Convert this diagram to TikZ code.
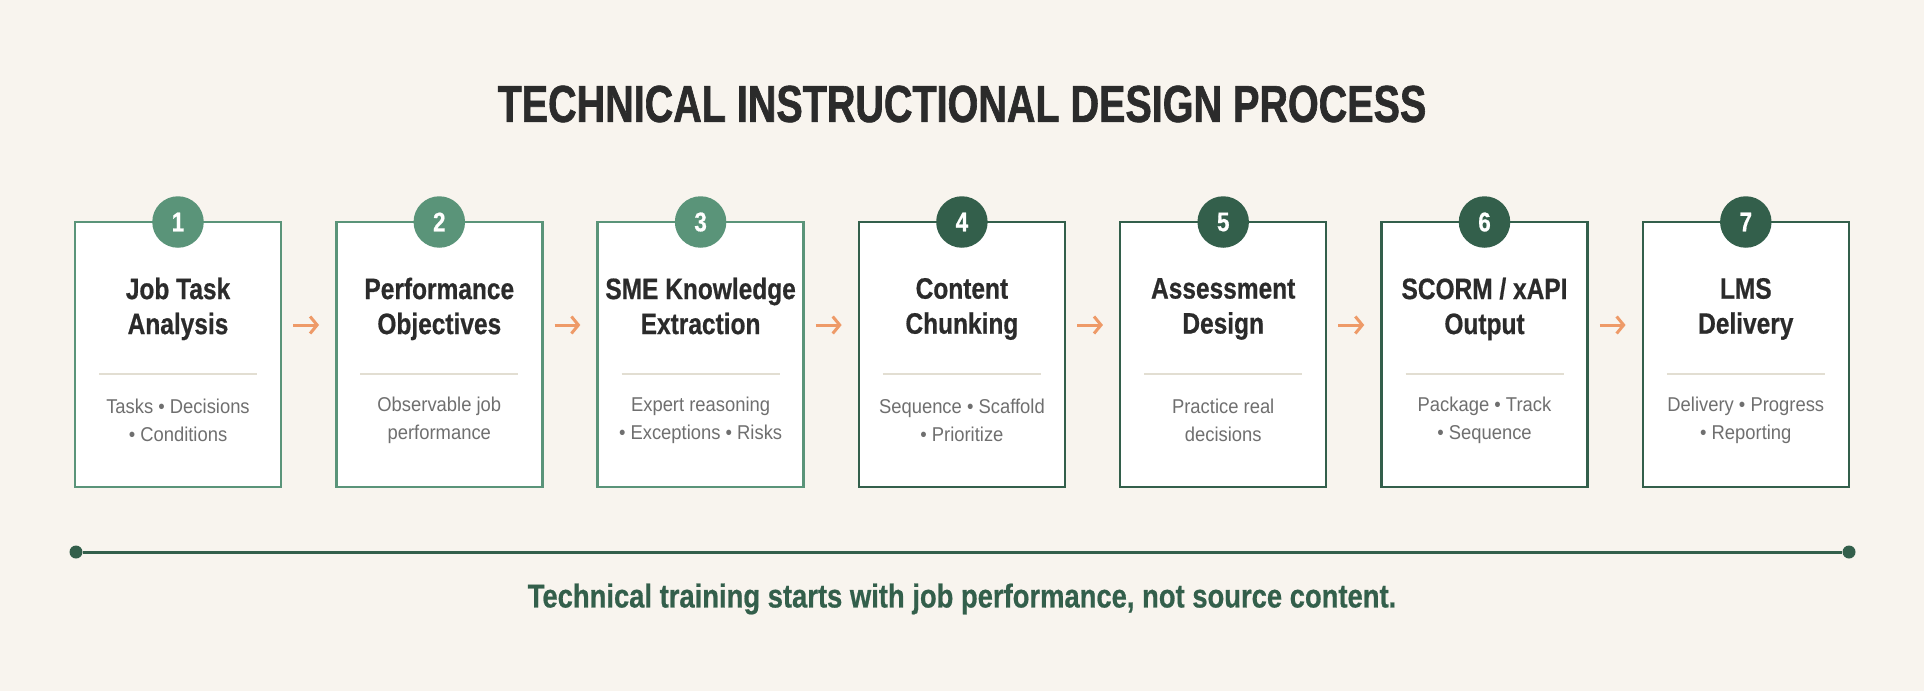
\documentclass[tikz,border=0pt]{standalone}
\usepackage{fontspec}
\usetikzlibrary{arrows.meta,positioning}
\setmainfont{Liberation Sans}
\newfontfamily\headfont[FakeStretch=0.76, FakeBold=1.2]{Liberation Sans}
\newfontfamily\condfont[FakeStretch=0.83, FakeBold=0.6]{Liberation Sans}
\newfontfamily\notefont[FakeStretch=0.92]{Liberation Sans}
\definecolor{paper}{HTML}{F8F4EE}
\definecolor{sage}{HTML}{5A9479}
\definecolor{pine}{HTML}{335F4B}
\definecolor{ink}{HTML}{2B2B2B}
\definecolor{slate}{HTML}{6F6F6F}
\definecolor{rule}{HTML}{E2DED2}
\definecolor{peach}{HTML}{EE9A68}

\begin{document}
\begin{tikzpicture}[x=1pt, y=-1pt]
            \tikzstyle{stepbox}=[shape=rectangle, fill=white, line width=2.5pt, minimum width=206pt, minimum height=265pt, inner sep=0pt];
            \tikzstyle{numdot}=[shape=circle, minimum size=51.5pt, inner sep=0pt, text=white, font=\condfont\bfseries\fontsize{27}{27}\selectfont];
            \tikzstyle{steptitle}=[align=center, text=ink, inner sep=0pt, font=\condfont\bfseries\fontsize{29.5}{35}\selectfont, execute at end node={\vphantom{g}}];
            \tikzstyle{stepnote}=[align=center, text=slate, inner sep=0pt, font=\notefont\fontsize{20}{28}\selectfont];
            \tikzstyle{sepline}=[draw=rule, line width=1.5pt];
            \tikzstyle{flow}=[-{Straight Barb[length=7pt,width=17pt]}, draw=peach, line width=3pt, shorten <=11pt, shorten >=16pt];
            \tikzstyle{enddot}=[shape=circle, fill=pine, minimum size=13pt, inner sep=0pt];

            \useasboundingbox[fill=paper] (0,0) rectangle (1924,691);

            \node[text=ink, font=\headfont\bfseries\fontsize{52}{52}\selectfont] (head) at (962,104) {TECHNICAL INSTRUCTIONAL DESIGN PROCESS};

            \begin{scope}[shift={(178,0)}]
                \node[stepbox, draw=sage] (B1) at (0,354.5) {};
                \node[numdot, fill=sage] (N1) at (0,222) {1};
                \node[steptitle] (T1) at (0,309) {Job Task\\Analysis};
                \draw[sepline] (-79,374) -- (79,374);
                \node[stepnote] (S1) at (0,420) {Tasks • Decisions\\• Conditions};
            \end{scope}

            \begin{scope}[shift={(439.3,0)}]
                \node[stepbox, draw=sage] (B2) at (0,354.5) {};
                \node[numdot, fill=sage] (N2) at (0,222) {2};
                \node[steptitle] (T2) at (0,309) {Performance\\Objectives};
                \draw[sepline] (-79,374) -- (79,374);
                \node[stepnote] (S2) at (0,420) {Observable job\\performance};
            \end{scope}

            \begin{scope}[shift={(700.6,0)}]
                \node[stepbox, draw=sage] (B3) at (0,354.5) {};
                \node[numdot, fill=sage] (N3) at (0,222) {3};
                \node[steptitle] (T3) at (0,309) {SME Knowledge\\Extraction};
                \draw[sepline] (-79,374) -- (79,374);
                \node[stepnote] (S3) at (0,420) {Expert reasoning\\• Exceptions • Risks};
            \end{scope}

            \begin{scope}[shift={(961.9,0)}]
                \node[stepbox, draw=pine] (B4) at (0,354.5) {};
                \node[numdot, fill=pine] (N4) at (0,222) {4};
                \node[steptitle] (T4) at (0,309) {Content\\Chunking};
                \draw[sepline] (-79,374) -- (79,374);
                \node[stepnote] (S4) at (0,420) {Sequence • Scaffold\\• Prioritize};
            \end{scope}

            \begin{scope}[shift={(1223.2,0)}]
                \node[stepbox, draw=pine] (B5) at (0,354.5) {};
                \node[numdot, fill=pine] (N5) at (0,222) {5};
                \node[steptitle] (T5) at (0,309) {Assessment\\Design};
                \draw[sepline] (-79,374) -- (79,374);
                \node[stepnote] (S5) at (0,420) {Practice real\\decisions};
            \end{scope}

            \begin{scope}[shift={(1484.5,0)}]
                \node[stepbox, draw=pine] (B6) at (0,354.5) {};
                \node[numdot, fill=pine] (N6) at (0,222) {6};
                \node[steptitle] (T6) at (0,309) {SCORM / xAPI\\Output};
                \draw[sepline] (-79,374) -- (79,374);
                \node[stepnote] (S6) at (0,420) {Package • Track\\• Sequence};
            \end{scope}

            \begin{scope}[shift={(1745.8,0)}]
                \node[stepbox, draw=pine] (B7) at (0,354.5) {};
                \node[numdot, fill=pine] (N7) at (0,222) {7};
                \node[steptitle] (T7) at (0,309) {LMS\\Delivery};
                \draw[sepline] (-79,374) -- (79,374);
                \node[stepnote] (S7) at (0,420) {Delivery • Progress\\• Reporting};
            \end{scope}

            % arrows between the steps
            \draw[flow] ([yshift=29.5pt]B1.east) -- ([yshift=29.5pt]B2.west);
            \draw[flow] ([yshift=29.5pt]B2.east) -- ([yshift=29.5pt]B3.west);
            \draw[flow] ([yshift=29.5pt]B3.east) -- ([yshift=29.5pt]B4.west);
            \draw[flow] ([yshift=29.5pt]B4.east) -- ([yshift=29.5pt]B5.west);
            \draw[flow] ([yshift=29.5pt]B5.east) -- ([yshift=29.5pt]B6.west);
            \draw[flow] ([yshift=29.5pt]B6.east) -- ([yshift=29.5pt]B7.west);

            % timeline
            \node[enddot] (L) at (76,552) {};
            \node[enddot] (R) at (1849,552) {};
            \draw[draw=pine, line width=3pt] (L) -- (R);

            \node[text=pine, font=\condfont\bfseries\fontsize{33}{33}\selectfont] (note) at (962,599) {Technical training starts with job performance, not source content.};
        \end{tikzpicture}
\end{document}
